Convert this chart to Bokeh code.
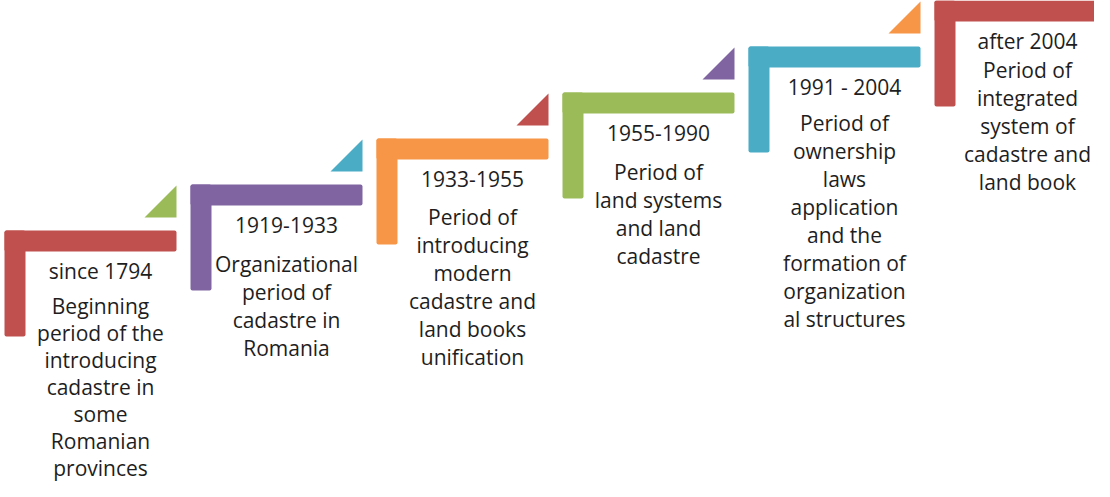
from bokeh.plotting import figure
from bokeh.models import Range1d
from bokeh.embed import file_html
from bokeh.resources import INLINE
from bokeh.core.properties import value

# ---- data ----
step_dates = ["since 1794", "1919-1933", "1933-1955", "1955-1990", "1991 - 2004", "after 2004"]
step_texts = [
    ["Beginning", "period of the", "introducing", "cadastre in", "some", "Romanian", "provinces"],
    ["Organizational", "period of", "cadastre in", "Romania"],
    ["Period of", "introducing", "modern", "cadastre and", "land books", "unification"],
    ["Period of", "land systems", "and land", "cadastre"],
    ["Period of", "ownership", "laws", "application", "and the", "formation of", "organization", "al structures"],
    ["Period of", "integrated", "system of", "cadastre and", "land book"],
]
step_colors = ["#C0504D", "#8064A2", "#F79646", "#9BBB59", "#4BACC6", "#C0504D"]
arrow_colors = ["#9BBB59", "#4BACC6", "#C0504D", "#8064A2", "#F79646", None]

# ---- layout constants ----
X0, DX = 12, 186.0
Y0, DY = 238, -46.0
BAR_W, BAR_T, LEG_H = 172, 21, 106
DATE_OFF = 40
LINE_H = [27, 28, 28, 28, 28, 28]
BODY_GAP = [35, 39, 38, 39, 36, 29]
TEXT_DX = [96, 96, 96, 96, 96, 93]
FONT = "Open Sans"
TXT_COL = "#1e1e1e"

p = figure(width=1094, height=481, output_backend="svg", toolbar_location=None,
           x_range=Range1d(8, 1102), y_range=Range1d(489, 8),
           min_border=0, outline_line_color=None)
p.axis.visible = False
p.grid.visible = False
p.background_fill_color = "white"
p.border_fill_color = "white"

hx0, hx1, hy0, hy1 = [], [], [], []
vx0, vx1, vy0, vy1 = [], [], [], []
cols = []
tx, ty, tt = [], [], []
tri_x, tri_y, tri_c = [], [], []

for i, (d, lines, c) in enumerate(zip(step_dates, step_texts, step_colors)):
    x0 = X0 + i * DX
    y0 = Y0 + i * DY
    right = x0 + BAR_W if i < 5 else 1115
    hx0.append(x0); hx1.append(right); hy0.append(y0); hy1.append(y0 + BAR_T)
    vx0.append(x0); vx1.append(x0 + BAR_T); vy0.append(y0); vy1.append(y0 + LEG_H)
    cols.append(c)
    cx = x0 + TEXT_DX[i]
    tx.append(cx); ty.append(y0 + DATE_OFF); tt.append(d)
    yb = y0 + DATE_OFF + BODY_GAP[i]
    for k, ln in enumerate(lines):
        tx.append(cx); ty.append(yb + k * LINE_H[i]); tt.append(ln)
    ac = arrow_colors[i]
    if ac:
        r = x0 + BAR_W
        tri_x.append([r - 32, r, r])
        tri_y.append([y0 - 13, y0 - 13, y0 - 45])
        tri_c.append(ac)

p.quad(left=hx0, right=hx1, top=hy0, bottom=hy1, fill_color=cols, line_color=None,
       border_radius=2)
p.quad(left=vx0, right=vx1, top=vy0, bottom=vy1, fill_color=cols, line_color=None,
       border_radius=2)
p.patches(tri_x, tri_y, fill_color=tri_c, line_color=None)

p.text(x=tx, y=ty, text=tt, text_align="center", text_baseline="middle",
       text_font=value(FONT), text_font_size="21px", text_color=TXT_COL)

open("out.html", "w").write(file_html(p, INLINE))
